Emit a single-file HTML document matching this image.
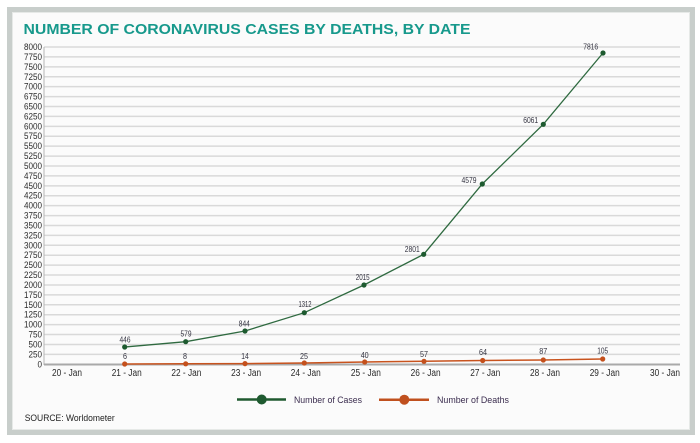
<!DOCTYPE html>
<html>
<head>
<meta charset="utf-8">
<style>
  html,body{margin:0;padding:0;background:#ffffff;}
  svg{display:block;}
  text{font-family:"Liberation Sans",sans-serif;}
</style>
</head>
<body>
<svg width="700" height="443" viewBox="0 0 700 443" xmlns="http://www.w3.org/2000/svg">
  <rect x="0" y="0" width="700" height="443" fill="#ffffff"/>
  <!-- frame -->
  <rect x="9.5" y="9.5" width="683" height="423" fill="#fbfbfb" stroke="#c8cecb" stroke-width="5"/>
  <rect x="12.5" y="12.5" width="677" height="417" fill="none" stroke="#e6e9e7" stroke-width="1"/>

  <!-- title -->
  <text x="23.5" y="34" font-size="14.5" font-weight="bold" fill="#17998c" textLength="447" lengthAdjust="spacingAndGlyphs">NUMBER OF CORONAVIRUS CASES BY DEATHS, BY DATE</text>

  <!-- gridlines & y labels -->
  <g id="grid" stroke="#d9d9d9" stroke-width="1.5"></g>
  <g id="ylabels" font-size="8.8" fill="#2a2a2a" text-anchor="end"></g>

  <!-- axes -->
  <line x1="44" y1="47" x2="44" y2="365" stroke="#b5b5b5" stroke-width="1"/>
  <line x1="44" y1="364.5" x2="680" y2="364.5" stroke="#a9a9a9" stroke-width="2"/>

  <!-- x labels -->
  <g font-size="9.8" fill="#2a2a2a" text-anchor="middle">
    <text x="67" y="376" textLength="30" lengthAdjust="spacingAndGlyphs">20 - Jan</text>
    <text x="126.7" y="376" textLength="30" lengthAdjust="spacingAndGlyphs">21 - Jan</text>
    <text x="186.4" y="376" textLength="30" lengthAdjust="spacingAndGlyphs">22 - Jan</text>
    <text x="246.1" y="376" textLength="30" lengthAdjust="spacingAndGlyphs">23 - Jan</text>
    <text x="305.8" y="376" textLength="30" lengthAdjust="spacingAndGlyphs">24 - Jan</text>
    <text x="365.9" y="376" textLength="30" lengthAdjust="spacingAndGlyphs">25 - Jan</text>
    <text x="425.6" y="376" textLength="30" lengthAdjust="spacingAndGlyphs">26 - Jan</text>
    <text x="485.3" y="376" textLength="30" lengthAdjust="spacingAndGlyphs">27 - Jan</text>
    <text x="545" y="376" textLength="30" lengthAdjust="spacingAndGlyphs">28 - Jan</text>
    <text x="604.7" y="376" textLength="30" lengthAdjust="spacingAndGlyphs">29 - Jan</text>
    <text x="665" y="376" textLength="30" lengthAdjust="spacingAndGlyphs">30 - Jan</text>
  </g>

  <!-- deaths series -->
  <polyline fill="none" stroke="#c8531e" stroke-width="1.5"
    points="124.7,364 185.7,363.8 245,363.6 304.3,363 364.7,362 424,361.3 482.7,360.5 543.3,360 602.7,359"/>
  <g fill="#c4501c">
    <circle cx="124.7" cy="364" r="2.6"/>
    <circle cx="185.7" cy="363.8" r="2.6"/>
    <circle cx="245" cy="363.6" r="2.6"/>
    <circle cx="304.3" cy="363" r="2.6"/>
    <circle cx="364.7" cy="362" r="2.6"/>
    <circle cx="424" cy="361.3" r="2.6"/>
    <circle cx="482.7" cy="360.5" r="2.6"/>
    <circle cx="543.3" cy="360" r="2.6"/>
    <circle cx="602.7" cy="359" r="2.6"/>
  </g>

  <!-- cases series -->
  <polyline fill="none" stroke="#2f6a40" stroke-width="1.3"
    points="124.7,347 185.7,341.7 245,331 304.3,312.7 364,285 423.7,254.3 482.3,184 543.3,124.3 603,53"/>
  <g fill="#1d5a2f">
    <circle cx="124.7" cy="347" r="2.6"/>
    <circle cx="185.7" cy="341.7" r="2.6"/>
    <circle cx="245" cy="331" r="2.6"/>
    <circle cx="304.3" cy="312.7" r="2.6"/>
    <circle cx="364" cy="285" r="2.6"/>
    <circle cx="423.7" cy="254.3" r="2.6"/>
    <circle cx="482.3" cy="184" r="2.6"/>
    <circle cx="543.3" cy="124.3" r="2.6"/>
    <circle cx="603" cy="53" r="2.6"/>
  </g>

  <!-- data labels cases -->
  <g font-size="8.5" fill="#333340" text-anchor="middle">
    <text x="125" y="342.3" textLength="11" lengthAdjust="spacingAndGlyphs">446</text>
    <text x="186" y="336.3" textLength="11" lengthAdjust="spacingAndGlyphs">579</text>
    <text x="244.3" y="326.7" textLength="11" lengthAdjust="spacingAndGlyphs">844</text>
    <text x="305" y="307" textLength="13" lengthAdjust="spacingAndGlyphs">1312</text>
    <text x="362.7" y="280" textLength="14" lengthAdjust="spacingAndGlyphs">2015</text>
    <text x="412.3" y="252" textLength="15" lengthAdjust="spacingAndGlyphs">2801</text>
    <text x="469" y="183" textLength="15" lengthAdjust="spacingAndGlyphs">4579</text>
    <text x="530.7" y="123" textLength="15" lengthAdjust="spacingAndGlyphs">6061</text>
    <text x="590.7" y="49.7" textLength="15" lengthAdjust="spacingAndGlyphs">7816</text>
  </g>
  <!-- data labels deaths -->
  <g font-size="8.5" fill="#333340" text-anchor="middle">
    <text x="125" y="359" textLength="4" lengthAdjust="spacingAndGlyphs">6</text>
    <text x="185" y="359" textLength="4" lengthAdjust="spacingAndGlyphs">8</text>
    <text x="245" y="359" textLength="7.5" lengthAdjust="spacingAndGlyphs">14</text>
    <text x="304" y="359" textLength="8" lengthAdjust="spacingAndGlyphs">25</text>
    <text x="364.7" y="358" textLength="8" lengthAdjust="spacingAndGlyphs">40</text>
    <text x="424" y="357" textLength="8" lengthAdjust="spacingAndGlyphs">57</text>
    <text x="483" y="355" textLength="8" lengthAdjust="spacingAndGlyphs">64</text>
    <text x="543.3" y="354" textLength="8" lengthAdjust="spacingAndGlyphs">87</text>
    <text x="602.7" y="353.3" textLength="11" lengthAdjust="spacingAndGlyphs">105</text>
  </g>

  <!-- legend -->
  <line x1="237" y1="399.5" x2="286" y2="399.5" stroke="#1f5a30" stroke-width="2.5"/>
  <circle cx="261.7" cy="399.5" r="5" fill="#1f5a30"/>
  <text x="294" y="403" font-size="9.5" fill="#3b2d4f" textLength="68" lengthAdjust="spacingAndGlyphs">Number of Cases</text>
  <line x1="379" y1="399.7" x2="429" y2="399.7" stroke="#c0501e" stroke-width="2.5"/>
  <circle cx="404.3" cy="399.7" r="5" fill="#c0501e"/>
  <text x="437" y="403" font-size="9.5" fill="#3b2d4f" textLength="72" lengthAdjust="spacingAndGlyphs">Number of Deaths</text>

  <!-- source -->
  <text x="24.7" y="421" font-size="9.5" fill="#222" textLength="90" lengthAdjust="spacingAndGlyphs">SOURCE: Worldometer</text>

  <script>
    (function(){
      var ns="http://www.w3.org/2000/svg";
      var g=document.getElementById("grid");
      var yl=document.getElementById("ylabels");
      for(var v=250; v<=8000; v+=250){
        var y=364.3 - v*(317.3/8000);
        var l=document.createElementNS(ns,"line");
        l.setAttribute("x1","44");l.setAttribute("x2","680");
        l.setAttribute("y1",y.toFixed(2));l.setAttribute("y2",y.toFixed(2));
        g.appendChild(l);
      }
      for(var v=0; v<=8000; v+=250){
        var y=364.3 - v*(317.3/8000);
        var t=document.createElementNS(ns,"text");
        t.setAttribute("x","42");
        t.setAttribute("y",(y+3).toFixed(2));
        var s=String(v);
        t.setAttribute("textLength",(s.length*4.5).toFixed(1));
        t.setAttribute("lengthAdjust","spacingAndGlyphs");
        t.textContent=s;
        yl.appendChild(t);
      }
    })();
  </script>
</svg>
</body>
</html>
